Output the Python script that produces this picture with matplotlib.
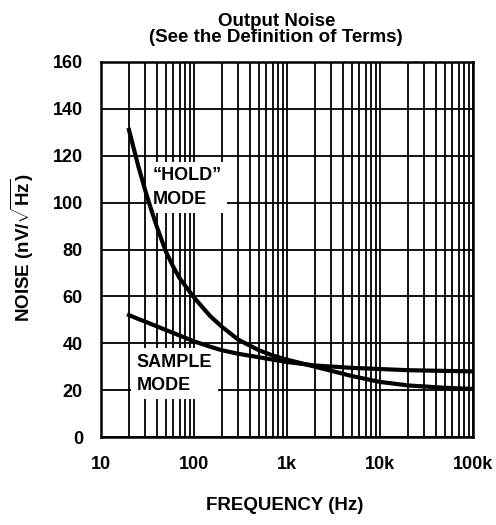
import matplotlib
matplotlib.use("Agg")
import matplotlib.pyplot as plt
from matplotlib.ticker import LogLocator, FixedLocator, NullFormatter

# values
freq = [20, 25, 30, 35, 40, 50, 60, 70, 100, 150, 200, 300, 500, 700, 1000, 2000,
        5000, 10000, 20000, 50000, 100000]
hold_noise = [131, 116, 105, 96.5, 89.5, 79, 72.5, 67.8, 59.5, 51.5, 47, 41.5, 37, 34.8, 33, 30,
              26, 23.5, 22, 21, 20.5]
sample_noise = [52, 50.4, 49.2, 48.1, 47.2, 45.6, 44.4, 43.3, 40.8, 38.5, 37, 35.5, 34, 33, 32, 30.5,
                29.5, 29, 28.5, 28.2, 28]

x_ticks = [10, 100, 1000, 10000, 100000]
x_labels = ["10", "100", "1k", "10k", "100k"]
y_ticks = [0, 20, 40, 60, 80, 100, 120, 140, 160]

font = "Liberation Sans"
plt.rcParams["mathtext.fontset"] = "custom"
plt.rcParams["mathtext.bf"] = "Liberation Sans:bold"
plt.rcParams["mathtext.rm"] = "Liberation Sans:bold"

fig = plt.figure(figsize=(4.96, 5.25), dpi=100)
ax = fig.add_axes([101 / 496, 1 - 437 / 525, 372 / 496, 375 / 525])

ax.plot(freq, hold_noise, color="black", lw=3.0, zorder=4)
ax.plot(freq, sample_noise, color="black", lw=3.0, zorder=4)

ax.set_xscale("log")
ax.set_xlim(10, 100000)
ax.set_ylim(0, 160)
ax.xaxis.set_major_locator(FixedLocator(x_ticks))
ax.xaxis.set_minor_locator(LogLocator(base=10, subs=range(2, 10)))
ax.xaxis.set_minor_formatter(NullFormatter())
ax.set_xticks(x_ticks)
ax.set_xticklabels(x_labels)
ax.set_yticks(y_ticks)

ax.set_axisbelow(True)
ax.grid(True, which="both", color="black", lw=1.3)
for s in ax.spines.values():
    s.set_linewidth(1.8)
    s.set_color("black")

ax.tick_params(which="both", length=0)
ax.tick_params(axis="y", pad=13)
ax.tick_params(axis="x", pad=14)
for lab in ax.get_xticklabels() + ax.get_yticklabels():
    lab.set_family(font)
    lab.set_fontweight("bold")
    lab.set_fontsize(13)

box = dict(facecolor="white", edgecolor="none", pad=4)
ax.text(36, 106.4, "\u201cHOLD\u201d\nMODE", family=font, fontweight="bold", fontsize=13,
        linespacing=1.5, ha="left", va="center", bbox=box, zorder=2)
ax.text(24.3, 27, "SAMPLE\nMODE", family=font, fontweight="bold", fontsize=13,
        linespacing=1.45, ha="left", va="center", bbox=box, zorder=2)

fig.text(0.557, 0.975, "Output Noise\n(See the Definition of Terms)", ha="center", va="top",
         family=font, fontweight="bold", fontsize=13.5, linespacing=0.9)
fig.text(0.573, 0.038, "FREQUENCY (Hz)", ha="center", va="center",
         family=font, fontweight="bold", fontsize=13.5)
fig.text(0.045, 0.528, r"NOISE (nV/$\mathbf{\sqrt{Hz}}$)", ha="center", va="center",
         rotation=90, family=font, fontweight="bold", fontsize=13.5)

fig.savefig("out.png", dpi=100, facecolor="white")
